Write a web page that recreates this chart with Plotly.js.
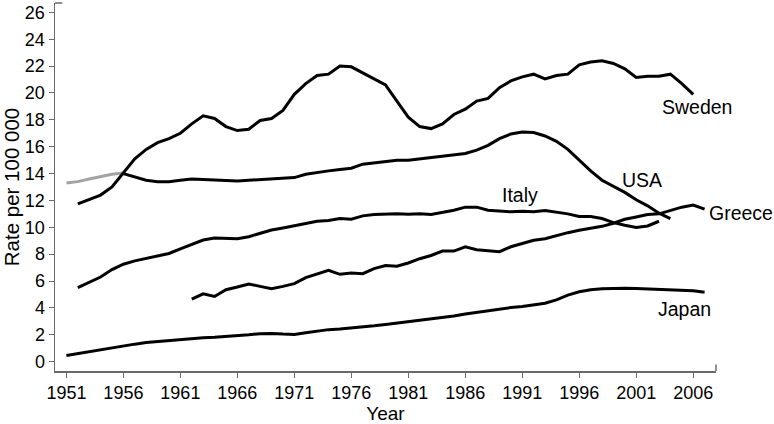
<!DOCTYPE html>
<html>
<head>
<meta charset="utf-8">
<script src="https://cdn.plot.ly/plotly-3.0.1.min.js"></script>
<style>
  html, body { margin: 0; padding: 0; background: #fff; }
  #plot { width: 774px; height: 424px; }
</style>
</head>
<body>
<div id="plot"></div>
<script>
// Rates per 100 000, one value per year
const swedenStart = 1952;
const sweden = [11.75, 12.1, 12.4, 13.0, 14.05, 15.1, 15.8, 16.3, 16.6, 17.0,
    17.7, 18.3, 18.1, 17.5, 17.2, 17.3, 17.95, 18.1, 18.7, 19.9,
    20.7, 21.3, 21.4, 22.0, 21.95, 21.5, 21.05, 20.6, 19.4, 18.2,
    17.5, 17.35, 17.7, 18.4, 18.8, 19.4, 19.6, 20.4, 20.9, 21.2,
    21.4, 21.05, 21.3, 21.4, 22.1, 22.3, 22.4, 22.2, 21.8, 21.15,
    21.25, 21.25, 21.4, 20.7, 19.9];

const usaEarlyStart = 1951;   // grey segment
const usaEarly = [13.3, 13.4, 13.6, 13.8, 13.95, 14.05];

const usaStart = 1956;
const usa = [14.0, 13.75, 13.5, 13.4, 13.4, 13.5, 13.6, 13.55, 13.5, 13.45,
    13.45, 13.5, 13.55, 13.55, 13.6, 13.7, 13.95, 14.1, 14.2, 14.3,
    14.4, 14.7, 14.8, 14.9, 15.0, 15.0, 15.1, 15.2, 15.25, 15.35,
    15.5, 15.75, 16.1, 16.6, 16.95, 17.1, 17.05, 16.8, 16.4, 15.8,
    15.0, 14.2, 13.5, 13.05, 12.6, 12.05, 11.6, 11.05, 10.65];

const italyStart = 1952;
const italy = [5.5, 5.9, 6.3, 6.85, 7.25, 7.5, 7.7, 7.85, 8.05, 8.4,
    8.75, 9.05, 9.2, 9.2, 9.15, 9.3, 9.55, 9.8, 9.95, 10.1,
    10.3, 10.45, 10.5, 10.65, 10.6, 10.85, 10.95, 11.0, 11.0, 10.97,
    11.0, 10.95, 11.1, 11.27, 11.5, 11.5, 11.27, 11.2, 11.15, 11.2,
    11.15, 11.25, 11.15, 11.0, 10.8, 10.8, 10.65, 10.35, 10.15, 9.98,
    10.1, 10.45];

const greeceStart = 1962;
const greece = [4.65, 5.05, 4.85, 5.35, 5.55, 5.78, 5.6, 5.42, 5.6, 5.8,
    6.25, 6.5, 6.8, 6.5, 6.6, 6.55, 6.92, 7.15, 7.1, 7.34,
    7.66, 7.9, 8.23, 8.23, 8.55, 8.33, 8.23, 8.18, 8.55, 8.8,
    9.03, 9.15, 9.4, 9.6, 9.78, 9.9, 10.07, 10.3, 10.6, 10.77,
    10.95, 11.0, 11.27, 11.5, 11.65, 11.35];

const japanStart = 1951;
const japan = [0.45, 0.6, 0.75, 0.85, 1.0, 1.15, 1.3, 1.42, 1.5, 1.55,
    1.62, 1.7, 1.78, 1.82, 1.87, 1.9, 2.0, 2.08, 2.1, 2.05,
    2.02, 2.15, 2.28, 2.38, 2.43, 2.5, 2.58, 2.67, 2.77, 2.87,
    2.97, 3.07, 3.18, 3.28, 3.4, 3.55, 3.68, 3.8, 3.92, 4.02,
    4.1, 4.2, 4.35, 4.6, 4.95, 5.2, 5.35, 5.43, 5.47, 5.47,
    5.45, 5.42, 5.4, 5.38, 5.33, 5.27, 5.17];

// Label text and where it sits (year, rate)
const labels = [
    { text: 'Sweden', year: 2006.3, rate: 18.95 },
    { text: 'USA',    year: 2001.5, rate: 13.5 },
    { text: 'Italy',  year: 1990.8, rate: 12.4 },
    { text: 'Greece', year: 2010.2, rate: 11.05 },
    { text: 'Japan',  year: 2005.2, rate: 3.95 }
];

const yTicks = [0, 2, 4, 6, 8, 10, 12, 14, 16, 18, 20, 22, 24, 26];

const xRange = [1950, 2008];
const yRange = [-0.7, 26.7];

// years for a series that starts at `start`
function yearsFrom(start, values) {
    return values.map((v, i) => start + i);
}

function line(start, values, color) {
    return {
        x: yearsFrom(start, values),
        y: values,
        type: 'scatter',
        mode: 'lines',
        line: { color: color, width: 3 },
        hoverinfo: 'skip',
        showlegend: false
    };
}

const data = [
    line(usaEarlyStart, usaEarly, '#a3a3a3'),
    line(swedenStart, sweden, '#000'),
    line(usaStart, usa, '#000'),
    line(italyStart, italy, '#000'),
    line(greeceStart, greece, '#000'),
    line(japanStart, japan, '#000')
];

const axisColor = '#6a6a6a';

const layout = {
    width: 774,
    height: 424,
    margin: { l: 55, r: 58, t: 3, b: 53 },
    paper_bgcolor: '#fff',
    plot_bgcolor: '#fff',
    font: { family: 'Liberation Sans, Arial, sans-serif', color: '#000', size: 18 },
    xaxis: {
        range: xRange,
        tickmode: 'linear',
        tick0: 1951,
        dtick: 5,
        ticks: 'outside',
        ticklen: 5,
        tickcolor: axisColor,
        showline: true,
        linecolor: axisColor,
        linewidth: 1.5,
        showgrid: false,
        zeroline: false,
        tickfont: { size: 18 },
        title: { text: 'Year', font: { size: 19 }, standoff: 5 }
    },
    yaxis: {
        range: yRange,
        tickvals: yTicks,
        ticks: 'outside',
        ticklen: 5,
        tickcolor: axisColor,
        showline: true,
        linecolor: axisColor,
        linewidth: 1.5,
        showgrid: false,
        zeroline: false,
        tickfont: { size: 18 },
        title: { text: 'Rate per 100 000', font: { size: 20.5 }, standoff: 5 }
    },
    // labels placed in paper units so the one right of the axis is not hidden
    annotations: labels.map(l => ({
        xref: 'paper',
        yref: 'paper',
        x: (l.year - xRange[0]) / (xRange[1] - xRange[0]),
        y: (l.rate - yRange[0]) / (yRange[1] - yRange[0]),
        text: l.text,
        showarrow: false,
        font: { size: 19.5, color: '#000' },
        xanchor: 'center',
        yanchor: 'middle'
    })),
    // little end caps on the axes, as in the original
    shapes: [
        { type: 'line', xref: 'paper', yref: 'paper', x0: 0, x1: 0.011, y0: 1, y1: 1,
          line: { color: axisColor, width: 1.5 } },
        { type: 'line', xref: 'paper', yref: 'paper', x0: 1, x1: 1, y0: 0, y1: 0.018,
          line: { color: axisColor, width: 1.5 } }
    ]
};

Plotly.newPlot('plot', data, layout, { displayModeBar: false, staticPlot: true });
</script>
</body>
</html>
